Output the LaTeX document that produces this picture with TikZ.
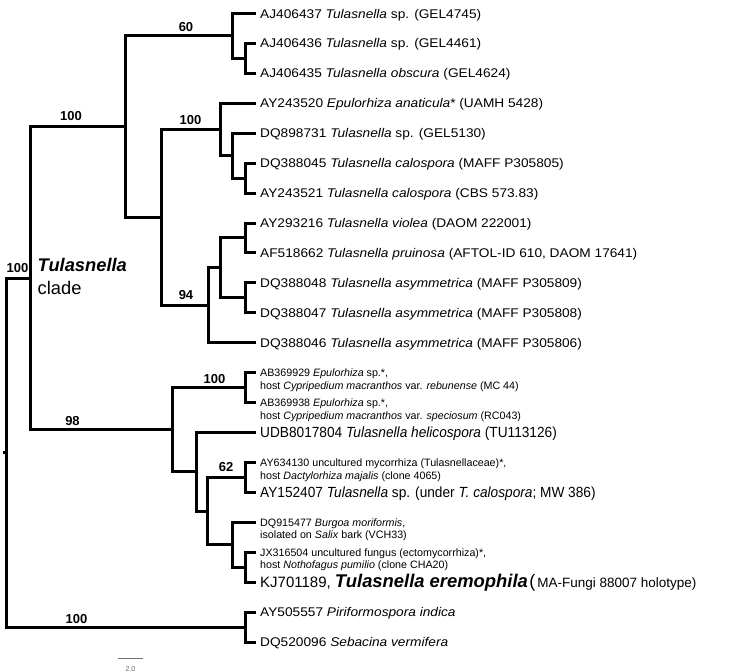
\documentclass[tikz,border=0pt]{standalone}
\usepackage{fontspec}
\setmainfont{Liberation Sans}
\newfontfamily\leaffont[FakeStretch=1.087]{Liberation Sans}
\newfontfamily\bigleaffont[FakeStretch=0.93]{Liberation Sans}
\begin{document}
\begin{tikzpicture}[x=1pt,y=-1pt,
  br/.style={line width=3pt, line join=miter, black},
  leaf/.style={anchor=base west, inner sep=0pt, font=\leaffont\fontsize{12.6}{15}\selectfont},
  bigleaf/.style={anchor=base west, inner sep=0pt, font=\bigleaffont\fontsize{14.7}{17}\selectfont},
  smalltxt/.style={anchor=base west, inner sep=0pt, font=\fontsize{10.7}{13}\selectfont},
  bs/.style={anchor=base, inner sep=0pt, font=\fontsize{13}{15}\selectfont\bfseries},
  cladetxt/.style={anchor=base west, inner sep=0pt, font=\fontsize{18.3}{21}\selectfont},
  scalebar/.style={line width=1.3pt, black!55},
]
\useasboundingbox (0,0) rectangle (739,672);

% leaf tips
\coordinate (t0) at (255.5,13.5);
\coordinate (t1) at (255.5,43.43);
\coordinate (t2) at (255.5,73.36);
\coordinate (t3) at (255.5,103.29);
\coordinate (t4) at (255.5,133.22);
\coordinate (t5) at (255.5,163.15);
\coordinate (t6) at (255.5,193.08);
\coordinate (t7) at (255.5,223.01);
\coordinate (t8) at (255.5,252.94);
\coordinate (t9) at (255.5,282.87);
\coordinate (t10) at (255.5,312.8);
\coordinate (t11) at (255.5,342.73);
\coordinate (t12) at (255.5,372.66);
\coordinate (t13) at (255.5,402.59);
\coordinate (t14) at (255.5,432.52);
\coordinate (t15) at (255.5,462.45);
\coordinate (t16) at (255.5,492.38);
\coordinate (t17) at (255.5,522.31);
\coordinate (t18) at (255.5,552.24);
\coordinate (t19) at (255.5,582.17);
\coordinate (t20) at (255.5,612.1);
\coordinate (t21) at (255.5,642.03);

% internal nodes
\coordinate (nB1) at (245,58.4);
\coordinate (nB) at (232,35.95);
\coordinate (nD3) at (245,178.1);
\coordinate (nD2) at (232,155.66);
\coordinate (nD) at (220,129.5);
\coordinate (nE1a) at (245,237.98);
\coordinate (nE1b) at (245,297.84);
\coordinate (nE1) at (220,267.91);
\coordinate (nE) at (208,305.32);
\coordinate (nC) at (161,217.41);
\coordinate (nA) at (125,126.68);
\coordinate (nG) at (245,387.63);
\coordinate (nJ) at (245,477.4);
\coordinate (nL) at (245,567.2);
\coordinate (nK) at (232,544.76);
\coordinate (nI) at (207,511.08);
\coordinate (nH) at (196,471.8);
\coordinate (nF) at (172,429.7);
\coordinate (nIN) at (30.5,278.2);
\coordinate (nO) at (245,627.07);
\coordinate (nR) at (6.5,452.6);
\coordinate (root0) at (3,452.6);

% branches
\draw[br] (root0) -- (nR);
\draw[br] (nR) |- (nIN);
\draw[br] (nR) |- (nO);
\draw[br] (nIN) |- (nA);
\draw[br] (nIN) |- (nF);
\draw[br] (nA) |- (nB);
\draw[br] (nA) |- (nC);
\draw[br] (nB) |- (t0);
\draw[br] (nB) |- (nB1);
\draw[br] (nB1) |- (t1);
\draw[br] (nB1) |- (t2);
\draw[br] (nC) |- (nD);
\draw[br] (nC) |- (nE);
\draw[br] (nD) |- (t3);
\draw[br] (nD) |- (nD2);
\draw[br] (nD2) |- (t4);
\draw[br] (nD2) |- (nD3);
\draw[br] (nD3) |- (t5);
\draw[br] (nD3) |- (t6);
\draw[br] (nE) |- (nE1);
\draw[br] (nE) |- (t11);
\draw[br] (nE1) |- (nE1a);
\draw[br] (nE1) |- (nE1b);
\draw[br] (nE1a) |- (t7);
\draw[br] (nE1a) |- (t8);
\draw[br] (nE1b) |- (t9);
\draw[br] (nE1b) |- (t10);
\draw[br] (nF) |- (nG);
\draw[br] (nF) |- (nH);
\draw[br] (nG) |- (t12);
\draw[br] (nG) |- (t13);
\draw[br] (nH) |- (t14);
\draw[br] (nH) |- (nI);
\draw[br] (nI) |- (nJ);
\draw[br] (nI) |- (nK);
\draw[br] (nJ) |- (t15);
\draw[br] (nJ) |- (t16);
\draw[br] (nK) |- (t17);
\draw[br] (nK) |- (nL);
\draw[br] (nL) |- (t18);
\draw[br] (nL) |- (t19);
\draw[br] (nO) |- (t20);
\draw[br] (nO) |- (t21);

% leaf labels
\node[leaf] (l0) at ([xshift=4.5pt,yshift=-4.5pt]t0) {AJ406437 \textit{Tulasnella} sp. (GEL4745)};
\node[leaf] (l1) at ([xshift=4.5pt,yshift=-4.5pt]t1) {AJ406436 \textit{Tulasnella} sp. (GEL4461)};
\node[leaf] (l2) at ([xshift=4.5pt,yshift=-4.5pt]t2) {AJ406435 \textit{Tulasnella obscura} (GEL4624)};
\node[leaf] (l3) at ([xshift=4.5pt,yshift=-4.5pt]t3) {AY243520 \textit{Epulorhiza anaticula}* (UAMH 5428)};
\node[leaf] (l4) at ([xshift=4.5pt,yshift=-4.5pt]t4) {DQ898731 \textit{Tulasnella} sp. (GEL5130)};
\node[leaf] (l5) at ([xshift=4.5pt,yshift=-4.5pt]t5) {DQ388045 \textit{Tulasnella calospora} (MAFF P305805)};
\node[leaf] (l6) at ([xshift=4.5pt,yshift=-4.5pt]t6) {AY243521 \textit{Tulasnella calospora} (CBS 573.83)};
\node[leaf] (l7) at ([xshift=4.5pt,yshift=-4.5pt]t7) {AY293216 \textit{Tulasnella violea} (DAOM 222001)};
\node[leaf] (l8) at ([xshift=4.5pt,yshift=-4.5pt]t8) {AF518662 \textit{Tulasnella pruinosa} (AFTOL-ID 610, DAOM 17641)};
\node[leaf] (l9) at ([xshift=4.5pt,yshift=-4.5pt]t9) {DQ388048 \textit{Tulasnella asymmetrica} (MAFF P305809)};
\node[leaf] (l10) at ([xshift=4.5pt,yshift=-4.5pt]t10) {DQ388047 \textit{Tulasnella asymmetrica} (MAFF P305808)};
\node[leaf] (l11) at ([xshift=4.5pt,yshift=-4.5pt]t11) {DQ388046 \textit{Tulasnella asymmetrica} (MAFF P305806)};
\node[smalltxt] (l12) at ([xshift=4.5pt,yshift=-3.8pt]t12) {AB369929 \textit{Epulorhiza} sp.*,};
\node[smalltxt] (l12b) at ([yshift=-13pt]l12.base west) {host \textit{Cypripedium macranthos} var. \textit{rebunense} (MC 44)};
\node[smalltxt] (l13) at ([xshift=4.5pt,yshift=-3.8pt]t13) {AB369938 \textit{Epulorhiza} sp.*,};
\node[smalltxt] (l13b) at ([yshift=-13pt]l13.base west) {host \textit{Cypripedium macranthos} var. \textit{speciosum} (RC043)};
\node[bigleaf] (l14) at ([xshift=4.5pt,yshift=-5.3pt]t14) {UDB8017804 \textit{Tulasnella helicospora} (TU113126)};
\node[smalltxt] (l15) at ([xshift=4.5pt,yshift=-3.8pt]t15) {AY634130 uncultured mycorrhiza (Tulasnellaceae)*,};
\node[smalltxt] (l15b) at ([yshift=-12.8pt]l15.base west) {host \textit{Dactylorhiza majalis} (clone 4065)};
\node[bigleaf] (l16) at ([xshift=4.5pt,yshift=-5.3pt]t16) {AY152407 \textit{Tulasnella} sp. (under \textit{T. calospora}; MW 386)};
\node[smalltxt] (l17) at ([xshift=4.5pt,yshift=-3.8pt]t17) {DQ915477 \textit{Burgoa moriformis},};
\node[smalltxt] (l17b) at ([yshift=-12.8pt]l17.base west) {isolated on \textit{Salix} bark (VCH33)};
\node[smalltxt] (l18) at ([xshift=4.5pt,yshift=-3.8pt]t18) {JX316504 uncultured fungus (ectomycorrhiza)*,};
\node[smalltxt] (l18b) at ([yshift=-12.8pt]l18.base west) {host \textit{Nothofagus pumilio} (clone CHA20)};
\node[anchor=base west, inner sep=0pt] (l19) at ([xshift=4.5pt,yshift=-5.5pt]t19) {{\fontsize{15}{18}\selectfont KJ701189, }{\fontsize{18.4}{21}\selectfont\bfseries\itshape Tulasnella eremophila}\kern1.5pt{\fontsize{18}{21}\selectfont (}\kern2pt{\fontsize{13.5}{16}\selectfont MA-Fungi 88007 holotype)}};
\node[leaf] (l20) at ([xshift=4.5pt,yshift=-4.5pt]t20) {AY505557 \textit{Piriformospora indica}};
\node[leaf] (l21) at ([xshift=4.5pt,yshift=-4.5pt]t21) {DQ520096 \textit{Sebacina vermifera}};

% bootstrap values
\node[bs] (bs60) at (186,31) {60};
\node[bs] (bsA) at (71,120) {100};
\node[bs] (bsD) at (190.5,124) {100};
\node[bs] (bs94) at (186,299) {94};
\node[bs] (bsIN) at (17.5,272) {100};
\node[bs] (bs98) at (72.5,425) {98};
\node[bs] (bsG) at (214.5,383) {100};
\node[bs] (bs62) at (226,471.5) {62};
\node[bs] (bsO) at (76.5,623) {100};

% clade label
\node[cladetxt] (clade1) at (37.5,271) {\bfseries\itshape Tulasnella};
\node[cladetxt] (clade2) at (37.5,294) {clade};

% scale bar
\coordinate (sb0) at (118,658.7);
\coordinate (sb1) at (143,658.7);
\draw[scalebar] (sb0) -- (sb1);
\node[anchor=base, inner sep=0pt, font=\fontsize{7}{8}\selectfont, text=black!60] (sbl) at (130.5,671.5) {2.0};
\end{tikzpicture}
\end{document}
